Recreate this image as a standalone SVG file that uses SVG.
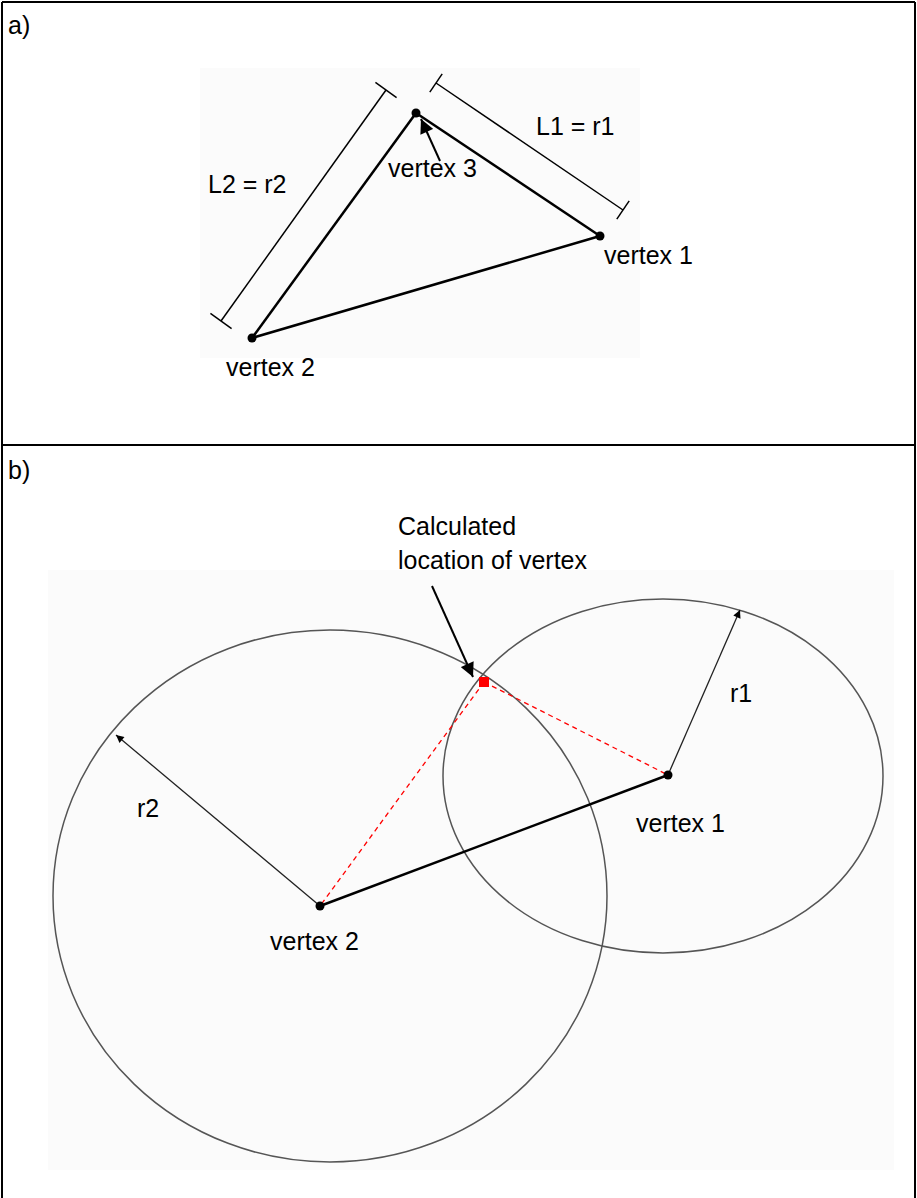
<svg xmlns="http://www.w3.org/2000/svg" width="917" height="1198" viewBox="0 0 917 1198">
<style>
text{font-family:"Liberation Sans",Arial,sans-serif;font-size:25px;fill:#000}
.frame{fill:none;stroke:#000;stroke-width:2}
.edge{stroke:#000;stroke-width:2.5;fill:none}
.dim{stroke:#000;stroke-width:1.5;fill:none}
.circ{fill:none;stroke:#555;stroke-width:1.5}
.rad{stroke:#222;stroke-width:1.3;fill:none}
.red{stroke:#f00;stroke-width:1.3;stroke-dasharray:5 4;fill:none}
.bg{fill:#fbfbfb}
</style>
<defs>
<marker id="bigArrow" viewBox="0 0 10 10" refX="10" refY="5" markerWidth="8" markerHeight="7" markerUnits="strokeWidth" orient="auto">
<path d="M0,0 L10,5 L0,10 z" fill="#000"/>
</marker>
<marker id="smallArrow" viewBox="0 0 10 10" refX="10" refY="5" markerWidth="7" markerHeight="6" markerUnits="strokeWidth" orient="auto">
<path d="M0,0 L10,5 L0,10 z" fill="#000"/>
</marker>
</defs>
<rect x="0" y="0" width="917" height="1198" fill="#fff"/>
<g id="frame">
<line class="frame" x1="2" y1="2" x2="915" y2="2"/>
<line class="frame" x1="2" y1="2" x2="2" y2="1198"/>
<line class="frame" x1="915" y1="2" x2="915" y2="1198"/>
<line class="frame" x1="2" y1="445" x2="915" y2="445"/>
<text x="8" y="34">a)</text>
<text x="8" y="479">b)</text>
</g>
<rect class="bg" x="200" y="68" width="440" height="290"/>
<rect class="bg" x="48" y="570" width="846" height="600"/>
<g id="connectors">
<line class="edge" x1="416" y1="113" x2="600" y2="236"/>
<line class="edge" x1="416" y1="113" x2="252" y2="338"/>
<line class="edge" x1="252" y1="338" x2="600" y2="236"/>
<line class="dim" x1="386" y1="90" x2="221" y2="321"/>
<line class="dim" x1="375.4" y1="82.4" x2="396.6" y2="97.6"/>
<line class="dim" x1="210.4" y1="313.4" x2="231.6" y2="328.6"/>
<line class="dim" x1="436" y1="83" x2="623" y2="210"/>
<line class="dim" x1="429.8" y1="92.1" x2="442.2" y2="73.9"/>
<line class="dim" x1="616.8" y1="219.1" x2="629.2" y2="200.9"/>
<line stroke="#000" stroke-width="2" x1="440" y1="161" x2="421" y2="119" marker-end="url(#bigArrow)"/>
<ellipse class="circ" cx="330" cy="896" rx="277" ry="266"/>
<ellipse class="circ" cx="663" cy="776" rx="220" ry="177"/>
<line class="edge" x1="320" y1="906" x2="668" y2="775"/>
<line class="red" x1="484" y1="682" x2="320" y2="906"/>
<line class="red" x1="484" y1="682" x2="668" y2="775"/>
<line class="rad" x1="320" y1="906" x2="116" y2="735" marker-end="url(#smallArrow)"/>
<line class="rad" x1="668" y1="775" x2="740" y2="610" marker-end="url(#smallArrow)"/>
<line stroke="#000" stroke-width="2" x1="432" y1="586" x2="473" y2="677" marker-end="url(#bigArrow)"/>
</g>
<g id="vertex3"><circle cx="416" cy="113" r="4.5"/><text x="388" y="177">vertex 3</text></g>
<g id="vertex1"><circle cx="600" cy="236" r="4.5"/><text x="604" y="264">vertex 1</text></g>
<g id="vertex2"><circle cx="252" cy="338" r="4.5"/><text x="226" y="376">vertex 2</text></g>
<g id="labels-a"><text x="208" y="193">L2 = r2</text><text x="536" y="135">L1 = r1</text></g>
<g id="calc"><text x="398" y="535">Calculated</text><text x="398" y="569">location of vertex</text><rect x="479" y="677" width="10" height="10" fill="#f00"/></g>
<g id="b-vertex1"><circle cx="668" cy="775" r="4.5"/><text x="636" y="832">vertex 1</text></g>
<g id="b-vertex2"><circle cx="320" cy="906" r="4.5"/><text x="270" y="950">vertex 2</text></g>
<g id="labels-b"><text x="137" y="817">r2</text><text x="730" y="702">r1</text></g>
</svg>
